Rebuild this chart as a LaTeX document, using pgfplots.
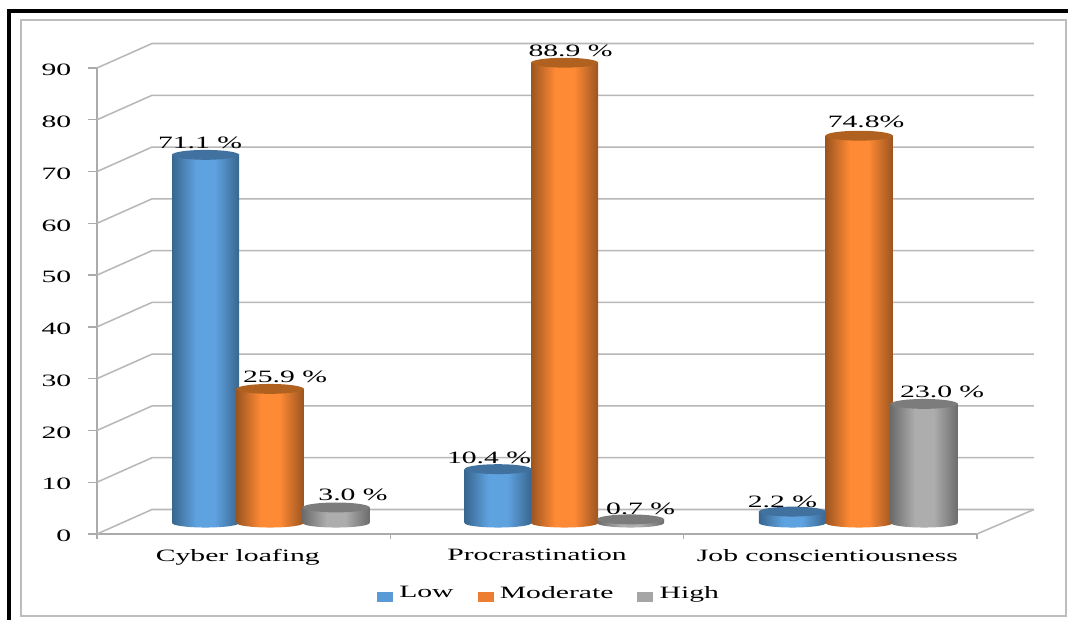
\documentclass[border=0pt]{standalone}
\usepackage{fontspec}
\setmainfont{Liberation Serif}[FakeStretch=1.71]
\usepackage{pgfplots}
\pgfplotsset{compat=1.18}

\definecolor{gridc}{HTML}{B8B8B8}
\definecolor{axisc}{HTML}{ABABAB}
\definecolor{framec}{HTML}{BDBDBD}
\definecolor{blueedge}{HTML}{38668F}
\definecolor{bluemid}{HTML}{5FA2E0}
\definecolor{bluecap}{HTML}{41729F}
\definecolor{blueflat}{HTML}{5B9BD5}
\definecolor{orangeedge}{HTML}{9C5520}
\definecolor{orangemid}{HTML}{FF8A35}
\definecolor{orangecap}{HTML}{B0601F}
\definecolor{orangeflat}{HTML}{ED7D31}
\definecolor{grayedge}{HTML}{6C6C6C}
\definecolor{graymid}{HTML}{ADADAD}
\definecolor{graycap}{HTML}{7C7C7C}
\definecolor{grayflat}{HTML}{A5A5A5}

% Left-to-right cylinder shading; the path box covers 25bp to 75bp.
% The base mark is the lower half of the ellipse under the body.
\newcommand{\cylshading}[3]{%
  \pgfdeclarehorizontalshading{#1}{100bp}{color(0bp)=(#2); color(25bp)=(#2);
    color(43bp)=(#3); color(57bp)=(#3); color(75bp)=(#2); color(100bp)=(#2)}%
  \pgfdeclareplotmark{base#1}{%
    \pgfpathmoveto{\pgfqpoint{-25.1pt}{0.6pt}}%
    \pgfpathlineto{\pgfqpoint{-25.1pt}{0pt}}%
    \pgfpatharc{180}{360}{25.1pt and 3.4pt}%
    \pgfpathlineto{\pgfqpoint{25.1pt}{0.6pt}}%
    \pgfpathclose
    \pgfshadepath{#1}{0}\pgfusepath{discard}}}
\cylshading{cylblue}{blueedge}{bluemid}
\cylshading{cylorange}{orangeedge}{orangemid}
\cylshading{cylgray}{grayedge}{graymid}

\pgfdeclareplotmark{cylcap}{%
  \pgfpathellipse{\pgfpointorigin}{\pgfqpoint{25.1pt}{0pt}}{\pgfqpoint{0pt}{3.7pt}}%
  \pgfusepathqfill}

% One cylinder: base half-ellipse, shaded body, top ellipse.
\newcommand{\cylinder}[4]{%
  \addplot[forget plot, only marks, mark=base#3, yshift=8.25pt] coordinates {(#1,0)};
  \addplot[forget plot, ybar, bar width=50.25pt, bar shift=0pt, draw=none, shade, shading=#3, yshift=8.25pt]
    coordinates {(#1,#2)};
  \addplot[forget plot, only marks, mark=cylcap, mark options={fill=#4, draw=none}, yshift=8.25pt]
    coordinates {(#1,#2)};
}
\newcommand{\legendkey}[2]{%
  \addlegendimage{legend image code/.code={%
    \fill[#1] (0pt,-6pt) rectangle (11.25pt,0.8pt);
    \path[draw=none] (0pt,-2.6pt) -- (14.5pt,-2.6pt);}}%
  \addlegendentry{#2}}

\begin{document}
\begin{tikzpicture}
\path[use as bounding box, fill=white] (0pt,0pt) rectangle (801pt,465pt);

\begin{scope}[x=0.75pt, y=-0.75pt, yshift=465pt]
  \draw[framec, line width=1pt] (21,20) rectangle (1066,616);
  \fill[black] (7,9) rectangle (1068,13);
  \fill[black] (7,9) rectangle (11.3,620);
\end{scope}

\begin{axis}[
  at={(72.75pt,64.5pt)}, anchor=south west,
  scale only axis, width=660pt, height=349.5pt,
  xmin=0, xmax=3, ymin=0, ymax=90,
  clip=false,
  axis x line=bottom, axis y line=left,
  axis line style={axisc, line width=1.2pt, -},
  ytick={0,10,...,90},
  xtick={0.48,1.5,2.49},
  xticklabels={Cyber loafing, Procrastination, Job conscientiousness},
  minor xtick={0,1,2,3},
  tick align=outside,
  major tick length=6.75pt,
  minor tick length=4pt,
  x tick style={draw=none},
  minor x tick style={draw=axisc, line width=1pt},
  y tick style={axisc, line width=1pt},
  tick label style={font=\fontsize{13pt}{15pt}\selectfont, text=black},
  /pgf/number format/assume math mode=true,
  yticklabel style={xshift=-9pt, yshift=-1.5pt},
  xticklabel style={yshift=-1pt},
  legend style={at={(0.514,-0.1266)}, anchor=center, draw=none, fill=none,
    legend columns=-1, font=\fontsize{13pt}{15pt}\selectfont,
    /tikz/every even column/.append style={column sep=16pt}},
]

% Back wall and side wall rules
\pgfplotsinvokeforeach{0,10,...,90}{
  \draw[gridc, line width=1.15pt] (axis cs:0,#1) -- (axis cs:0.1875,{#1+4.73}) -- (axis cs:3.194,{#1+4.73});
}
\draw[gridc, line width=1.15pt] (axis cs:3,0) -- (axis cs:3.194,4.73);

% Value labels, placed behind the cylinders
\addplot[forget plot, draw=none, mark=none,
  point meta=explicit symbolic,
  visualization depends on={value \thisrow{dx}\as\labeldx},
  visualization depends on={value \thisrow{dy}\as\labeldy},
  nodes near coords,
  every node near coord/.append style={anchor=center, inner sep=0pt, text=black,
    font=\fontsize{13pt}{15pt}\selectfont,
    xshift=0.75pt*\labeldx, yshift=0.75pt*\labeldy},
] table[x=x, y=val, meta=label] {
x val dx dy label
0.370 71.1 -5.5 23 {71.1 \%}
0.590 25.9 15 23 {25.9 \%}
0.815 3.0 17 24 {3.0 \%}
1.367 10.4 -9 22 {10.4 \%}
1.594 88.9 6 23 {88.9 \%}
1.819 0.7 10 22 {0.7 \%}
2.371 2.2 -10 21 {2.2 \%}
2.598 74.8 7 25 {74.8\%}
2.820 23.0 18 23 {23.0 \%}
};

% Low
\cylinder{0.370}{71.1}{cylblue}{bluecap}
\cylinder{1.367}{10.4}{cylblue}{bluecap}
\cylinder{2.371}{2.2}{cylblue}{bluecap}
% Moderate
\cylinder{0.590}{25.9}{cylorange}{orangecap}
\cylinder{1.594}{88.9}{cylorange}{orangecap}
\cylinder{2.598}{74.8}{cylorange}{orangecap}
% High
\cylinder{0.815}{3.0}{cylgray}{graycap}
\cylinder{1.819}{0.7}{cylgray}{graycap}
\cylinder{2.820}{23.0}{cylgray}{graycap}

\legendkey{blueflat}{Low}
\legendkey{orangeflat}{Moderate}
\legendkey{grayflat}{High}
\end{axis}
\end{tikzpicture}
\end{document}
